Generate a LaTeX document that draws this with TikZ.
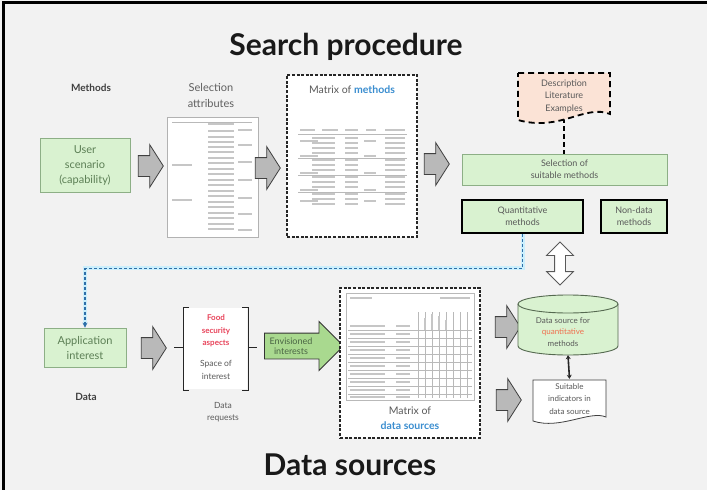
\documentclass[tikz,border=0pt]{standalone}
\usepackage{fontspec}
\setmainfont{Lato}
\usetikzlibrary{shapes.arrows,arrows.meta,shapes.geometric}
\definecolor{bg}{HTML}{F2F2F2}
\definecolor{gfill}{HTML}{D9F2D0}
\definecolor{gbord}{HTML}{8DAF86}
\definecolor{gtext}{HTML}{5C7F55}
\definecolor{peach}{HTML}{FBE3D6}
\definecolor{envfill}{HTML}{A9D98F}
\definecolor{bluet}{HTML}{3B8ED0}
\definecolor{bluel}{HTML}{2F6FA8}
\definecolor{redt}{HTML}{E8435A}
\definecolor{oranget}{HTML}{F0704F}
\definecolor{txt}{HTML}{5A5A5A}
\newcommand\fs[2]{\fontsize{#1}{#2}\selectfont}
\tikzset{
  gbox/.style={draw=gbord, fill=gfill, line width=0.7pt, text=gtext, align=center, inner sep=0pt},
  qbox/.style={draw=black, fill=gfill, line width=2.4pt, text=gtext, align=center, inner sep=0pt},
  garrow/.style={single arrow, draw=black!75, fill=gray!55, line width=0.8pt, inner sep=0pt,
     minimum height=25pt, single arrow head extend=11pt, single arrow tip angle=115},
  dashbox/.style={draw=black!85, fill=white, line width=1.8pt, dash pattern=on 3pt off 1.6pt, inner sep=0pt},
  label/.style={text=txt, align=center, inner sep=0pt},
  faint/.style={draw=gray!45, line width=1.1pt},
  thin/.style={draw=gray!55, line width=0.4pt},
}
\newcommand\shaft[1]{\rule{0pt}{#1}}
\begin{document}
\begin{tikzpicture}[x=1pt,y=-1pt]
\useasboundingbox (0,0) rectangle (707,490);
\fill[bg] (0,0) rectangle (707,490);
\draw[line width=2.2pt] (3.5,490) -- (3.5,2.5) -- (707,2.5);

% titles
\node[font=\bfseries\fs{30}{32}, text=black!90, anchor=base] (t1) at (346,55) {Search procedure};
\node[font=\bfseries\fs{30}{32}, text=black!90, anchor=base] (t2) at (350,475) {Data sources};

% Methods row
\node[font=\bfseries\fs{10}{12}, text=black!75] (lm) at (91,88) {Methods};
\node[label, font=\fs{11}{16}, text=gray!75!black] (lsel) at (211,95) {Selection\\attributes};
\node[gbox, minimum width=90, minimum height=54, font=\fs{11}{15}] (user) at (85,165) {User\\scenario\\(capability)};
\node[garrow] (a1) at (147.5,166) {\shaft{20pt}};

% selection attributes image
\node[draw=gray!60, fill=white, line width=0.8pt, minimum width=91, minimum height=120, inner sep=0pt] (selimg) at (212.5,177) {};
\foreach \y in {124,131,137,142,147,152,158,163,169,174,180,185,191,196,202,207,213,218,224,229}
  \draw[faint] (208,\y) -- (234,\y);
\foreach \y in {130,145,162,180,198,214,230}
  \draw[faint] (238,\y) -- (252,\y);
\foreach \y in {165,200}
  \draw[faint] (172,\y) -- (192,\y);
\draw[thin] (172,122) -- (252,122);
\node[garrow] (a2) at (264.5,168) {\shaft{20pt}};

% Matrix of methods
\node[dashbox, minimum width=130, minimum height=162] (mm) at (352,156) {};
\node[font=\fs{10.5}{12}, text=txt, inner sep=0pt] (lmm) at (352,90) {Matrix of \textcolor{bluet}{\bfseries methods}};
\draw[draw=gray!70, line width=0.6pt, double=white, double distance=1.2pt] (295,120) rectangle (410,212);
\foreach \y in {130} { \draw[faint] (300,\y) -- (315,\y); \draw[faint] (322,\y) -- (338,\y); \draw[faint] (345,\y) -- (358,\y); \draw[faint] (366,\y) -- (376,\y); \draw[faint] (385,\y) -- (405,\y);}
\draw[thin] (298,134) -- (407,134);
\foreach \y in {138,143,148,153,160,165,170,177,182,187,194,199,204}
  { \draw[faint] (312,\y) -- (335,\y); \draw[faint] (345,\y) -- (358,\y); \draw[faint] (385,\y) -- (405,\y); }
\foreach \y in {141,156,173,190,201}
  { \draw[faint] (300,\y) -- (318,\y); \draw[faint] (364,\y) -- (376,\y); }
\foreach \y in {158,175,192}
  \draw[thin] (298,\y) -- (407,\y);
\node[garrow] (a3) at (433.5,164) {\shaft{20pt}};

% Description
\node[minimum width=92, minimum height=48, inner sep=0pt] (desc) at (564,97) {};
\draw[line width=2pt, dash pattern=on 5pt off 3pt] (564,118) -- (564,154);
\fill[peach] (518,73) -- (610,73) -- (610,114) .. controls (585,104) and (560,132) .. (518,120) -- cycle;
\draw[line width=1.8pt, dash pattern=on 6pt off 4pt] (518,73) -- (610,73) -- (610,114) .. controls (585,104) and (560,132) .. (518,120) -- cycle;
\node[label, font=\fs{9}{12.5}, text=gray!70!black] (desct) at (564,96) {Description\\Literature\\Examples};

% selection of suitable methods
\node[gbox, minimum width=205, minimum height=31, font=\fs{9}{12}, text=gray!70!black] (sel) at (564.5,169.5) {Selection of\\suitable methods};
\node[qbox, minimum width=121, minimum height=33, font=\fs{9}{12}, text=gray!70!black] (quant) at (522.5,216.5) {Quantitative\\methods};
\node[qbox, minimum width=66, minimum height=33, font=\fs{9}{12}, text=gray!70!black] (nond) at (634,216.5) {Non-data\\methods};
\node[double arrow, rotate=90, draw=gray!70!black, fill=white, line width=0.8pt, minimum height=43pt, double arrow head extend=8pt, inner sep=0pt] (dbl) at (560,263.5) {\shaft{10pt}};

% Data row
\node[gbox, minimum width=82, minimum height=39, font=\fs{11}{15}] (app) at (85,347.5) {Application\\interest};
\node[font=\bfseries\fs{10}{12}, text=black!75] (ld) at (86,397) {Data};
\node[garrow] (a4) at (150.5,348) {\shaft{20pt}};

% blue dashed connector
\draw[bluel, line width=1.3pt, dash pattern=on 3pt off 2pt,
      preaction={draw=cyan!20, line width=4pt, solid},
      -{Stealth[length=5pt,width=5pt]}]
  (quant.south) -- ++(0,34) -| (app.north);

% bracket
\node[minimum width=65, minimum height=83, inner sep=0pt] (space) at (215.5,348.5) {};
\fill[white] (184,308) rectangle (247,389);
\draw[gray!30!black, line width=1pt] (189,307) -- (183,307) -- (183,390) -- (189,390);
\draw[gray!30!black, line width=1pt] (242,307) -- (248,307) -- (248,390) -- (242,390);
\draw[gray!30!black, line width=1pt] (174,347) -- (183,347);
\draw[gray!30!black, line width=1pt] (248,347) -- (257,347);
\node[font=\bfseries\fs{8}{12.5}, text=redt, align=center, inner sep=0pt] (food) at (216,331) {Food\\security\\aspects};
\node[label, font=\fs{8.5}{13}] (soi) at (216,370) {Space of\\interest};
\node[label, font=\fs{8.5}{11.5}] (dreq) at (223,412) {Data\\requests};

% envisioned arrow
\node[single arrow, draw=black!80, fill=envfill, line width=0.9pt, inner sep=0pt,
      minimum height=79pt, single arrow head extend=11.5pt] (env) at (297.5,346) {\shaft{25pt}};
\node[font=\fs{9}{10}, text=gtext!80!black, align=center, inner sep=0pt] (envt) at (291,346) {Envisioned\\interests};

% Matrix of data sources
\node[dashbox, minimum width=140, minimum height=150] (mds) at (410,363) {};
\draw[thin] (346,293) rectangle (474,400);
\draw[faint] (350,298) -- (372,298);
\draw[faint] (440,298) -- (470,298);
\foreach \x in {418,425,432,439,446,453,460,467}
  \draw[thin] (\x,312) -- (\x,398);
\foreach \x/\h in {425/318,432/314,439/316,446/320}
  \draw[faint] (\x,\h) -- (\x,330);
\foreach \y in {330,338,346,354,362,370,378,386,394}
  \draw[thin] (348,\y) -- (472,\y);
\foreach \y in {326,334,342,350,358,366,374,382,390,397}
  { \draw[faint] (350,\y) -- (385,\y); \draw[faint] (396,\y) -- (410,\y); }
\node[font=\fs{10.5}{15}, text=txt, align=center, inner sep=0pt] (lmds) at (410,418) {Matrix of\\\textcolor{bluet}{\bfseries data sources}};

\node[garrow] (a5) at (504.5,327) {\shaft{20pt}};
\node[garrow] (a6) at (505.5,400) {\shaft{20pt}};

% cylinder
\node[minimum width=100, minimum height=60, inner sep=0pt] (cyl) at (568,325) {};
\fill[gfill] (518,304) -- (518,346) arc[start angle=180, end angle=360, x radius=50, y radius=-9] -- (618,304) arc[start angle=0, end angle=180, x radius=50, y radius=-9] -- cycle;
\draw[gbord!60!black, line width=0.9pt] (518,304) -- (518,346) arc[start angle=180, end angle=360, x radius=50, y radius=-9] -- (618,304);
\draw[gbord!60!black, line width=0.9pt] (568,304) ellipse[x radius=50, y radius=9];
\node[font=\fs{8}{11.5}, text=gray!70!black, align=center, inner sep=0pt] (cylt) at (563,332) {Data source for\\\textcolor{oranget}{quantitative}\\methods};

% suitable indicators
\node[minimum width=73, minimum height=42, inner sep=0pt] (suit) at (569.5,400) {};
\draw[fill=white, draw=black!75, line width=0.8pt] (533,380) -- (606,380) -- (606,417) .. controls (590,410) and (560,430) .. (533,421) -- cycle;
\node[font=\fs{8}{12.5}, text=gray!70!black, align=center, inner sep=0pt] (suitt) at (569.5,399) {Suitable\\indicators in\\data source};
\draw[line width=1.6pt, black!85, {Stealth[length=4pt,width=5pt]}-{Stealth[length=4pt,width=5pt]}] (cyl.south) -- (suit.north);
\end{tikzpicture}
\end{document}
